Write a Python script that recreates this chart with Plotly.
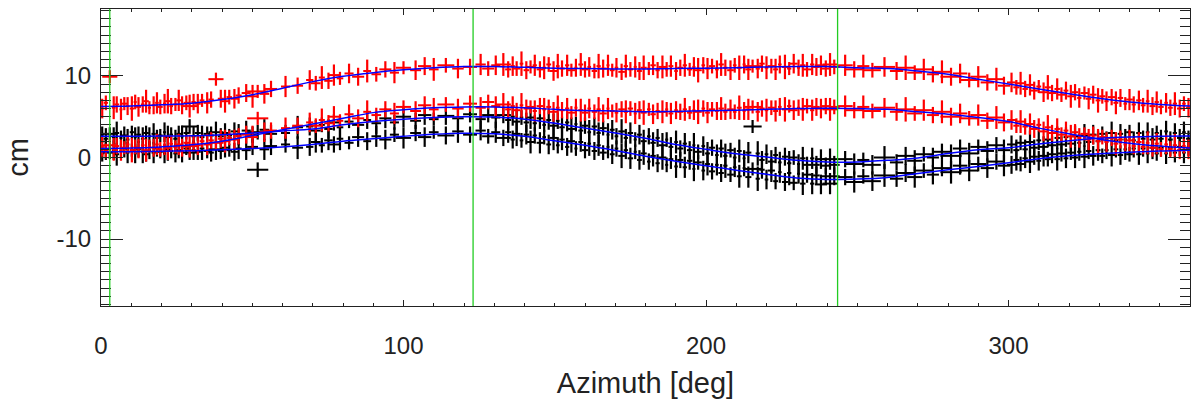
import plotly.graph_objects as go

# ---------------- data ----------------
azimuth = [
    0.4, 1.6, 2.9, 4.2, 5.2, 6.6, 7.7, 8.8, 10.2, 11.3, 12.4, 13.8, 14.9, 16.0, 17.4, 18.5, 19.6, 21.0,
    22.1, 23.2, 24.6, 25.7, 26.8, 28.2, 29.3, 30.6, 32.0, 33.4, 35.1, 36.4, 38.0, 39.6, 41.0, 42.4, 44.1, 45.5,
    48.0, 50.1, 51.8, 54.0, 56.2,
    61.0, 65.0,
    69.0, 71.0, 73.0, 75.2, 77.0, 79.0, 82.0, 85.0, 88.0, 91.0,
    94.0, 97.0, 100.0, 104.0, 107.0, 110.0, 114.0, 118.0, 122.0, 125.5, 128.0, 130.5,
    133.0, 134.6, 136.1, 137.4, 139.0, 140.6, 142.0, 143.4, 145.1, 146.5,
    148.0, 149.6, 151.0, 152.4, 154.1, 155.5, 157.0, 158.6, 160.0, 161.4,
    163.1, 164.5, 166.0, 167.6, 169.0, 170.4, 172.1, 173.5, 175.0, 176.6,
    178.0, 179.4, 181.1, 182.5, 184.0, 185.6, 187.0, 188.4, 190.1, 191.5,
    193.0, 194.6, 196.0, 197.4, 199.1, 200.5, 202.0, 203.6, 205.0, 206.4,
    208.1, 209.5, 211.0, 212.6, 214.0, 215.4, 217.1, 218.5, 220.0, 221.6,
    223.0, 224.4, 226.1, 227.5, 229.0, 230.6, 232.0, 233.4, 235.1, 236.5,
    238.0, 239.6, 241.0, 242.4,
    246.0, 249.0, 252.0, 255.0, 259.0, 263.0, 266.0, 269.0, 272.0, 275.0, 278.0, 281.0, 284.0, 287.0,
    290.0, 293.0, 296.0, 298.5,
    301.0, 302.6, 304.0, 305.5, 307.1, 308.5, 310.0, 311.6, 313.0, 314.4,
    316.1, 317.5, 319.0, 320.6, 322.0, 323.4, 325.1, 326.5, 328.0, 329.6,
    331.0, 332.4, 334.1, 335.5, 337.0, 338.6, 340.0, 341.4, 343.1, 344.5,
    346.0, 347.6, 349.0, 350.4, 352.1, 353.5, 355.0, 356.6, 358.0, 359.5,
]

azimuth_err = [
    0.5, 0.7, 2.5, 0.6, 0.8, 0.5, 0.9, 0.6, 0.7, 0.5, 0.8, 0.6, 0.9, 0.5, 0.7, 0.6, 0.8, 0.5,
    0.9, 0.6, 0.7, 0.8, 0.5, 0.9, 2.8, 0.7, 1.0, 0.8, 1.2, 0.9, 2.5, 1.0, 1.3, 0.9, 1.2, 1.0,
    1.5, 1.8, 3.5, 1.6, 2.0,
    1.5, 1.8,
    1.2, 1.6, 1.0, 1.4, 1.8, 1.1, 1.5, 2.0, 1.3, 1.6,
    2.0, 1.5, 2.5, 1.8, 2.2, 1.6, 2.8, 1.9, 2.3, 1.7, 2.0, 1.5,
    2.5, 1.0, 0.7, 1.2, 0.6, 0.9, 1.5, 0.7, 1.1, 0.6,
    0.8, 1.3, 0.6, 0.9, 0.7, 1.2, 0.5, 0.8, 1.0, 0.6,
    0.9, 0.7, 1.2, 0.5, 0.8, 0.6, 1.1, 0.7, 0.9, 0.5,
    0.8, 1.0, 0.6, 0.9, 0.7, 1.3, 0.5, 0.8, 0.6, 1.0,
    0.7, 0.9, 0.5, 1.2, 0.6, 0.8, 1.0, 0.6, 0.9, 0.7,
    1.1, 0.6, 0.8, 0.5, 1.0, 3.0, 0.7, 0.9, 0.6, 1.2,
    0.8, 0.6, 1.0, 0.7, 1.3, 0.5, 0.9, 1.5, 0.7, 1.1,
    2.0, 1.5, 2.5, 1.8,
    2.5, 3.0, 2.0, 2.8, 3.5, 2.2, 3.0, 2.5, 3.2, 2.0, 2.8, 3.5, 2.4, 3.0, 2.6, 2.2, 2.8, 2.0,
    1.5, 1.0, 1.8, 0.9, 1.4, 1.2, 0.8, 1.6, 1.0, 1.3,
    0.9, 1.5, 0.8, 1.2, 1.0, 0.7, 1.3, 0.9, 1.1, 0.8,
    1.0, 0.7, 1.2, 0.8, 0.9, 0.6, 1.1, 0.7, 0.9, 0.8,
    0.6, 1.0, 0.7, 0.9, 0.6, 0.8, 0.7, 0.9, 0.6, 0.8,
]

red_upper = [
    6.0, 6.7, 9.9, 6.1, 6.5, 5.9, 6.6, 6.3, 6.0, 6.8, 6.2, 6.5, 6.9, 6.1, 6.4, 6.7, 6.2, 6.6,
    6.9, 6.3, 6.5, 7.0, 6.4, 6.7, 6.3, 6.8, 6.6, 7.0, 6.7, 7.1, 9.6, 7.2, 6.9, 7.4, 7.2, 7.6,
    7.9, 7.5, 8.1, 7.8, 8.4,
    8.7, 8.8,
    9.5, 9.1, 9.8, 9.4, 10.1, 9.7, 10.3, 9.9, 10.6, 10.2,
    10.8, 10.4, 11.0, 10.7, 11.2, 10.8, 11.3, 10.9, 11.1, 11.4, 10.9, 11.3,
    11.4, 10.8, 11.2, 10.9, 11.5, 10.7, 11.1, 11.3, 10.8, 11.0,
    11.4, 10.6, 11.2, 10.9, 11.3, 10.7, 11.0, 11.4, 10.8, 11.1,
    10.6, 11.2, 10.9, 11.3, 10.7, 11.0, 10.5, 11.2, 10.8, 11.1,
    10.6, 11.0, 10.9, 11.3, 10.7, 11.1, 10.8, 11.2, 10.6, 11.0,
    11.3, 10.8, 11.1, 10.7, 11.3, 10.9, 11.2, 10.8, 11.4, 11.0,
    10.7, 11.3, 11.0, 11.4, 10.8, 11.2, 10.9, 11.5, 11.0, 11.2,
    10.8, 11.4, 11.1, 10.9, 11.5, 11.0, 11.3, 10.8, 11.4, 11.1,
    11.3, 10.9, 11.4, 11.1,
    11.3, 10.8, 11.2, 10.7, 11.1, 10.6, 11.0, 10.4, 10.8, 10.2, 10.5, 9.9, 10.3, 9.5, 9.9, 9.2, 9.6, 8.8,
    9.2, 8.6, 9.1, 8.4, 8.9, 8.2, 8.7, 8.0, 8.6, 7.9,
    8.4, 7.7, 8.2, 7.5, 8.0, 7.3, 7.9, 7.2, 7.7, 7.0,
    7.5, 6.9, 7.4, 6.7, 7.3, 6.6, 7.1, 6.5, 7.0, 6.4,
    6.9, 6.3, 6.8, 6.2, 6.7, 6.1, 6.6, 6.0, 6.6, 6.1,
]

red_lower = [
    1.3, 0.8, 1.5, 1.0, 1.4, 0.9, 1.2, 1.6, 0.9, 1.3, 1.1, 1.5, 0.9, 1.4, 1.2, 1.6, 1.0, 1.5,
    1.2, 1.7, 1.3, 1.6, 1.2, 1.8, 1.4, 1.7, 1.5, 2.0, 1.6, 2.1, 1.8, 2.3, 2.0, 2.4, 2.2, 2.6,
    2.8, 2.5, 4.8, 3.1, 3.3,
    3.6, 3.9,
    4.3, 3.9, 4.6, 4.2, 5.0, 4.5, 5.3, 4.8, 5.6, 5.2,
    5.9, 5.4, 6.2, 5.7, 6.4, 5.9, 6.5, 6.0, 6.6, 6.1, 6.8, 6.3,
    6.5, 5.9, 6.3, 5.8, 6.4, 6.0, 6.2, 5.7, 6.3, 5.9,
    6.2, 5.6, 6.1, 5.8, 6.0, 5.5, 6.1, 5.8, 5.5, 6.0,
    5.6, 5.9, 5.4, 6.0, 5.7, 5.5, 5.9, 5.6, 6.0, 5.4,
    5.8, 5.5, 5.9, 5.3, 5.7, 5.6, 5.9, 5.4, 5.8, 5.6,
    5.9, 5.5, 5.8, 5.6, 6.0, 5.5, 5.9, 5.7, 6.0, 5.6,
    5.9, 5.6, 6.1, 5.7, 5.9, 6.2, 5.6, 6.0, 5.8, 6.1,
    5.7, 6.2, 5.9, 6.3, 5.8, 6.1, 5.9, 6.3, 5.8, 6.2,
    6.0, 6.3, 5.9, 6.2,
    6.3, 5.8, 6.2, 5.7, 6.1, 5.6, 5.9, 5.4, 5.8, 5.2, 5.6, 5.0, 5.4, 4.8, 5.2, 4.5, 4.9, 4.3,
    4.6, 3.9, 4.4, 3.8, 4.1, 3.5, 4.0, 3.2, 3.7, 3.0,
    3.5, 2.8, 3.3, 2.6, 3.1, 2.4, 2.9, 2.2, 2.7, 2.0,
    2.5, 1.9, 2.4, 1.7, 2.2, 1.6, 2.1, 1.4, 1.9, 1.3,
    1.8, 1.2, 1.7, 1.0, 1.6, 1.0, 1.5, 0.9, 1.4, 1.0,
]

black_upper = [
    2.8, 2.3, 2.9, 2.5, 3.0, 2.4, 2.7, 2.2, 3.1, 2.5, 2.8, 2.3, 3.0, 2.6, 2.9, 2.4, 2.7, 3.1,
    2.5, 2.8, 2.3, 2.9, 2.6, 3.0, 3.8, 2.6, 3.0, 2.5, 2.9, 2.7, 3.1, 2.6, 3.0, 2.7, 3.2, 2.8,
    3.3, 2.8, 3.1, 3.4, 2.9,
    3.0, 3.7,
    3.8, 3.3, 4.0, 3.5, 4.3, 3.7, 4.4, 4.0, 4.6, 4.2,
    4.8, 4.3, 5.0, 4.5, 5.2, 4.7, 5.1, 4.8, 5.3, 4.7, 5.2, 4.9,
    5.2, 4.6, 5.0, 4.4, 4.9, 4.3, 4.9, 4.2, 4.8, 4.0,
    4.6, 3.9, 4.5, 3.7, 4.3, 3.5, 4.1, 3.3, 3.9, 3.1,
    3.8, 3.0, 3.6, 2.8, 3.4, 2.6, 3.2, 2.4, 3.0, 2.2,
    2.8, 2.0, 2.6, 1.8, 2.4, 1.5, 2.2, 1.3, 1.9, 1.1,
    1.7, 0.9, 1.5, 0.7, 1.4, 0.5, 1.2, 0.3, 1.1, 0.2,
    0.9, 0.0, 0.8, -0.1, 0.6, 3.8, 0.5, -0.3, 0.4, -0.5,
    0.3, -0.6, 0.1, -0.7, 0.0, -0.8, -0.1, -0.9, -0.1, -0.9,
    -0.2, -1.0, -0.2, -0.9,
    -0.2, -0.8, -0.3, -0.9, 0.0, -0.6, 0.2, -0.4, 0.4, 0.0, 0.7, 0.2, 1.1, 0.5, 1.3, 0.8, 1.5, 0.9,
    1.6, 0.9, 1.8, 1.0, 1.9, 1.2, 2.1, 1.3, 2.2, 1.5,
    2.4, 1.6, 2.5, 1.7, 2.6, 1.8, 2.7, 1.9, 2.8, 2.0,
    2.9, 2.1, 3.0, 2.1, 2.9, 2.2, 3.1, 2.1, 3.0, 2.3,
    3.1, 2.2, 3.0, 2.3, 3.2, 2.2, 3.0, 2.4, 3.1, 2.3,
]

black_lower = [
    0.5, 1.0, 0.6, 0.9, 0.4, 0.8, 1.1, 0.6, 0.9, 0.5, 1.0, 0.7, 0.4, 0.9, 0.6, 1.1, 0.7, 0.5,
    1.0, 0.8, 0.5, 0.9, 0.7, 1.1, 0.6, 0.9, 0.7, 1.1, 0.8, 0.6, 1.0, 0.8, 1.2, 0.9, 0.7, 1.1,
    0.9, 1.3, -1.5, 1.0, 1.4,
    1.6, 1.2,
    1.3, 1.9, 1.5, 2.1, 1.6, 2.3, 1.8, 2.5, 2.0, 2.6,
    2.2, 2.8, 2.4, 3.0, 2.5, 3.1, 2.7, 3.2, 2.8, 3.3, 2.6, 3.1,
    2.4, 3.1, 2.2, 2.9, 2.1, 2.8, 1.9, 2.7, 1.8, 2.5,
    1.6, 2.4, 1.5, 2.2, 1.3, 2.0, 1.1, 1.9, 0.9, 1.7,
    0.8, 1.5, 0.6, 1.3, 0.4, 1.1, 0.2, 0.9, -0.1, 0.7,
    -0.3, 0.5, -0.5, 0.2, -0.7, 0.0, -0.9, -0.2, -1.1, -0.3,
    -1.2, -0.4, -1.4, -0.6, -1.6, -0.8, -1.7, -0.9, -1.9, -1.0,
    -2.1, -1.2, -2.3, -1.3, -2.4, -1.4, -2.6, -1.5, -2.7, -1.6,
    -2.9, -1.8, -3.0, -1.9, -3.1, -2.0, -3.2, -2.1, -3.2, -2.2,
    -3.3, -2.3, -3.2, -2.3,
    -2.4, -3.0, -2.3, -2.9, -2.2, -2.6, -1.9, -2.4, -1.6, -2.1, -1.3, -1.8, -1.0, -1.6, -0.8, -1.3, -0.5, -1.0,
    -0.9, -0.3, -0.8, -0.1, -0.5, 0.1, -0.4, 0.2, -0.2, 0.4,
    -0.2, 0.5, -0.1, 0.6, 0.0, 0.7, 0.1, 0.8, 0.2, 0.9,
    0.2, 0.9, 0.3, 1.0, 0.3, 1.0, 0.4, 1.1, 0.4, 1.1,
    0.5, 1.2, 0.5, 1.2, 0.5, 1.2, 0.6, 1.3, 0.6, 1.2,
]

red_err = [
    1.2, 0.9, 0.8, 1.4, 1.0, 1.3, 0.8, 1.1, 1.5, 0.9, 1.2, 1.0, 1.4, 0.8, 1.1, 1.3, 0.9, 1.2,
    1.5, 1.0, 0.8, 1.3, 1.1, 0.9, 1.4, 1.0, 1.2, 0.8, 1.3, 1.0, 0.8, 1.1, 1.4, 0.9, 1.2, 1.0,
    1.1, 1.4, 0.8, 1.2, 1.0,
    1.3, 1.0,
    1.2, 0.9, 1.4, 1.0, 1.3, 0.8, 1.2, 1.1, 1.4, 0.9,
    1.0, 1.3, 0.8, 1.2, 1.1, 1.4, 0.9, 1.2, 1.0, 1.3, 0.9, 1.2,
    1.4, 1.0, 1.2, 0.9, 1.5, 1.1, 0.8, 1.3, 1.0, 1.4,
    0.9, 1.2, 1.5, 1.0, 1.3, 0.8, 1.1, 1.4, 1.0, 1.2,
    0.9, 1.5, 1.1, 1.3, 0.8, 1.2, 1.0, 1.4, 0.9, 1.3,
    1.1, 1.5, 0.8, 1.2, 1.0, 1.4, 0.9, 1.3, 1.1, 1.0,
    1.4, 0.8, 1.2, 1.5, 1.0, 1.3, 0.9, 1.1, 1.4, 1.0,
    1.2, 0.9, 1.5, 1.1, 1.3, 0.8, 1.2, 1.0, 1.4, 0.9,
    1.3, 1.1, 1.5, 0.8, 1.2, 1.0, 1.4, 0.9, 1.3, 1.1,
    1.2, 1.0, 1.4, 0.9,
    1.3, 1.0, 1.4, 0.9, 1.2, 1.1, 1.5, 0.9, 1.3, 1.0, 1.4, 1.1, 1.2, 0.9, 1.3, 1.0, 1.4, 1.1,
    1.2, 0.9, 1.4, 1.0, 1.3, 1.1, 0.8, 1.2, 1.5, 1.0,
    1.3, 0.9, 1.1, 1.4, 1.0, 1.2, 0.8, 1.3, 1.1, 1.5,
    0.9, 1.2, 1.0, 1.4, 1.1, 0.8, 1.3, 1.0, 1.2, 0.9,
    1.4, 1.1, 1.3, 0.9, 1.2, 1.0, 1.4, 1.1, 0.9, 1.2,
]

black_err = [
    1.0, 1.3, 0.8, 1.2, 1.4, 0.9, 1.1, 1.3, 0.8, 1.2, 1.0, 1.4, 0.9, 1.1, 1.3, 1.0, 0.8, 1.2,
    1.4, 0.9, 1.1, 1.0, 1.3, 0.8, 0.9, 1.2, 1.0, 1.4, 0.9, 1.1, 1.3, 1.0, 1.2, 0.8, 1.1, 1.3,
    1.2, 1.0, 0.9, 1.3, 1.1,
    1.0, 1.4,
    1.1, 1.3, 0.9, 1.2, 1.0, 1.4, 0.8, 1.2, 1.1, 1.3,
    1.2, 0.9, 1.3, 1.0, 1.2, 0.8, 1.1, 1.4, 1.0, 1.2, 0.9, 1.3,
    1.0, 1.3, 1.1, 1.5, 0.9, 1.2, 1.4, 1.0, 1.3, 0.9,
    1.2, 1.5, 1.0, 1.3, 1.1, 1.4, 0.9, 1.2, 1.0, 1.5,
    1.1, 1.3, 0.9, 1.4, 1.2, 1.0, 1.5, 1.1, 1.3, 0.9,
    1.2, 1.4, 1.0, 1.3, 1.1, 1.5, 0.9, 1.2, 1.4, 1.0,
    1.3, 1.1, 1.5, 0.9, 1.2, 1.4, 1.0, 1.3, 1.1, 1.5,
    0.9, 1.2, 1.4, 1.0, 1.3, 0.8, 1.5, 1.1, 1.2, 1.4,
    1.0, 1.3, 1.1, 1.5, 0.9, 1.2, 1.4, 1.0, 1.3, 1.1,
    1.2, 1.0, 1.3, 1.1,
    1.0, 1.3, 0.9, 1.2, 1.4, 1.0, 1.1, 1.3, 0.9, 1.2, 1.0, 1.4, 1.1, 1.3, 0.9, 1.2, 1.0, 1.3,
    1.1, 1.3, 0.9, 1.2, 1.4, 1.0, 1.2, 1.3, 0.9, 1.1,
    1.4, 1.0, 1.2, 0.9, 1.3, 1.1, 1.4, 1.0, 1.2, 1.3,
    0.9, 1.1, 1.4, 1.0, 1.2, 1.3, 0.9, 1.1, 1.3, 1.0,
    1.2, 1.4, 0.9, 1.1, 1.3, 1.0, 1.2, 1.1, 1.3, 1.0,
]

# fitted curves (blue), sampled every 10 deg
fit_az = [0, 10, 20, 30, 40, 50, 60, 70, 80, 90, 100, 110, 120, 130, 140, 150, 160, 170, 180,
          190, 200, 210, 220, 230, 240, 250, 260, 270, 280, 290, 300, 310, 320, 330, 340, 350, 360]
fit_red_upper = [6.25, 6.3, 6.45, 6.65, 7.1, 7.7, 8.5, 9.3, 9.95, 10.4, 10.75, 11.0, 11.15, 11.15, 11.05,
                 10.95, 10.9, 10.85, 10.85, 10.9, 10.95, 11.0, 11.1, 11.15, 11.15, 11.0, 10.9, 10.6,
                 10.2, 9.6, 9.0, 8.4, 7.8, 7.25, 6.8, 6.5, 6.3]
fit_red_lower = [1.1, 1.15, 1.3, 1.55, 2.0, 2.7, 3.4, 4.1, 4.8, 5.5, 5.85, 6.1, 6.2, 6.2, 6.1, 5.9, 5.75,
                 5.7, 5.6, 5.65, 5.72, 5.8, 5.9, 6.0, 6.05, 6.0, 5.9, 5.6, 5.3, 4.9, 4.4, 3.6, 2.9,
                 2.25, 1.75, 1.4, 1.15]
fit_black_upper = [2.6, 2.6, 2.62, 2.66, 2.8, 3.0, 3.25, 3.5, 4.0, 4.4, 4.7, 4.9, 5.0, 4.95, 4.7, 4.2,
                   3.6, 3.0, 2.35, 1.6, 1.0, 0.45, 0.05, -0.35, -0.55, -0.55, -0.35, -0.05, 0.5, 0.95,
                   1.2, 1.65, 2.05, 2.37, 2.5, 2.6, 2.65]
fit_black_lower = [0.7, 0.72, 0.78, 0.82, 0.95, 1.1, 1.3, 1.6, 2.0, 2.3, 2.6, 2.85, 2.98, 2.9, 2.6, 2.05,
                   1.5, 0.85, 0.15, -0.45, -1.02, -1.55, -2.05, -2.5, -2.7, -2.65, -2.45, -1.95, -1.5,
                   -1.1, -0.65, -0.15, 0.2, 0.45, 0.65, 0.8, 0.9]

marker_az = [2.9, 123.0, 243.5]

y_tickvals = [-10, 0, 10]
y_ticktext = ["-10", "0", "10"]

n = len(azimuth)
for name, arr in [("azimuth_err", azimuth_err), ("red_upper", red_upper), ("red_lower", red_lower),
                  ("black_upper", black_upper), ("black_lower", black_lower),
                  ("red_err", red_err), ("black_err", black_err)]:
    assert len(arr) == n, (name, len(arr), n)

# ---------------- figure ----------------
fig = go.Figure()

def add_points(yvals, yerr, color):
    fig.add_trace(go.Scatter(
        x=azimuth, y=yvals, mode="markers",
        marker=dict(size=1, color=color),
        error_x=dict(type="data", array=azimuth_err, width=0, thickness=2.0, color=color),
        error_y=dict(type="data", array=yerr, width=0, thickness=2.2, color=color),
        showlegend=False, hoverinfo="skip"))

add_points(black_lower, black_err, "black")
add_points(black_upper, black_err, "black")
add_points(red_lower, red_err, "#ff0000")
add_points(red_upper, red_err, "#ff0000")

for fit in [fit_red_upper, fit_red_lower, fit_black_upper, fit_black_lower]:
    fig.add_trace(go.Scatter(x=fit_az, y=fit, mode="lines",
                             line=dict(color="#0000ff", width=1.5, shape="spline"),
                             showlegend=False, hoverinfo="skip"))

for a in marker_az:
    fig.add_vline(x=a, line=dict(color="#22cc22", width=1.3), layer="above")

axis_col = "#222222"
fig.update_layout(
    width=1193, height=400,
    margin=dict(l=101, r=3, t=9, b=94),
    paper_bgcolor="white", plot_bgcolor="white",
    font=dict(family="Liberation Sans, Arial, sans-serif", size=24, color="#222222"),
    showlegend=False,
)
fig.update_xaxes(
    range=[0, 360], tickmode="linear", tick0=0, dtick=100,
    ticks="inside", ticklen=6, tickwidth=1, tickcolor=axis_col,
    minor=dict(ticks="inside", tickmode="linear", tick0=0, dtick=10, ticklen=3, tickcolor=axis_col),
    showline=True, linecolor=axis_col, linewidth=1, mirror="allticks",
    showgrid=False, zeroline=False, ticklabelstandoff=18, automargin=False,
    title=dict(text="Azimuth [deg]", standoff=14),
)
fig.update_yaxes(
    range=[-18.2, 18.2], tickmode="array", tickvals=y_tickvals, ticktext=y_ticktext,
    ticks="inside", ticklen=22, tickwidth=1, tickcolor=axis_col,
    minor=dict(ticks="inside", tickmode="linear", tick0=0, dtick=1, ticklen=10, tickcolor=axis_col),
    showline=True, linecolor=axis_col, linewidth=1, mirror="allticks",
    showgrid=False, zeroline=False, ticklabelstandoff=4, automargin=False,
    title=dict(text="cm", standoff=19),
)

fig.write_html(
    "out.html",
    config={"displayModeBar": False, "staticPlot": True},
    post_script="document.body.style.margin='0';document.body.style.overflow='hidden';",
)
